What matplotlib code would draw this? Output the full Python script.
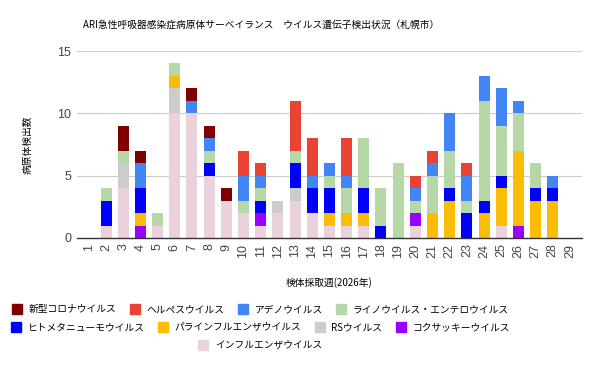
import matplotlib
matplotlib.use("Agg")
import matplotlib.pyplot as plt
from matplotlib.lines import Line2D
import numpy as np

plt.rcParams['font.family'] = ['Noto Sans CJK JP', 'DejaVu Sans']

weeks = list(range(1, 30))

# stacked bottom -> top
influenza =     [0, 1, 4, 0, 1, 10, 10, 5, 3, 2, 1, 2, 3, 2, 1, 1, 1, 0, 0, 1, 0, 0, 0, 0, 1, 0, 0, 0, 0]
coxsackie =     [0, 0, 0, 1, 0, 0, 0, 0, 0, 0, 1, 0, 0, 0, 0, 0, 0, 0, 0, 1, 0, 0, 0, 0, 0, 1, 0, 0, 0]
rs =            [0, 0, 2, 0, 0, 2, 0, 0, 0, 0, 0, 1, 1, 0, 0, 0, 0, 0, 0, 0, 0, 0, 0, 0, 0, 0, 0, 0, 0]
parainfluenza = [0, 0, 0, 1, 0, 1, 0, 0, 0, 0, 0, 0, 0, 0, 1, 1, 1, 0, 0, 0, 2, 3, 0, 2, 3, 6, 3, 3, 0]
hmpv =          [0, 2, 0, 2, 0, 0, 0, 1, 0, 0, 1, 0, 2, 2, 2, 0, 2, 1, 0, 0, 0, 1, 2, 1, 1, 0, 1, 1, 0]
rhino_entero =  [0, 1, 1, 0, 1, 1, 0, 1, 0, 1, 1, 0, 1, 0, 1, 2, 4, 3, 6, 1, 3, 3, 1, 8, 4, 3, 2, 0, 0]
adeno =         [0, 0, 0, 2, 0, 0, 1, 1, 0, 2, 1, 0, 0, 1, 1, 1, 0, 0, 0, 1, 1, 3, 2, 2, 3, 1, 0, 1, 0]
herpes =        [0, 0, 0, 0, 0, 0, 0, 0, 0, 2, 1, 0, 4, 3, 0, 3, 0, 0, 0, 1, 1, 0, 1, 0, 0, 0, 0, 0, 0]
covid =         [0, 0, 2, 1, 0, 0, 1, 1, 1, 0, 0, 0, 0, 0, 0, 0, 0, 0, 0, 0, 0, 0, 0, 0, 0, 0, 0, 0, 0]

series = [
    ("インフルエンザウイルス", influenza, "#ead1dc"),
    ("コクサッキーウイルス", coxsackie, "#9900ff"),
    ("RSウイルス", rs, "#cccccc"),
    ("パラインフルエンザウイルス", parainfluenza, "#fbbc04"),
    ("ヒトメタニューモウイルス", hmpv, "#0000ff"),
    ("ライノウイルス・エンテロウイルス", rhino_entero, "#b6d7a8"),
    ("アデノウイルス", adeno, "#4285f4"),
    ("ヘルペスウイルス", herpes, "#ea4335"),
    ("新型コロナウイルス", covid, "#800000"),
]

fig = plt.figure(figsize=(6, 3.71), dpi=100)
ax = fig.add_axes([0.128, 0.3585, 0.842, 0.504])

bottom = np.zeros(len(weeks))
for name, vals, col in series:
    v = np.array(vals, dtype=float)
    ax.bar(weeks, v, bottom=bottom, width=0.64, color=col, linewidth=0, zorder=2)
    bottom += v

ax.set_xlim(0.3, 29.7)
ax.set_ylim(0, 15)
ax.set_yticks([0, 5, 10, 15])
ax.set_xticks(weeks)
ax.set_xticklabels([str(w) for w in weeks], rotation=90)
for lab in ax.get_xticklabels() + ax.get_yticklabels():
    lab.set_family(['Liberation Sans', 'DejaVu Sans'])
ax.tick_params(axis='both', length=0, labelsize=9, colors="#444444")
ax.tick_params(axis='y', pad=4)
ax.tick_params(axis='x', pad=4)
ax.grid(axis='y', color="#cccccc", linewidth=0.8, zorder=0)
for s in ["top", "right", "left"]:
    ax.spines[s].set_visible(False)
ax.spines["bottom"].set_color("#333333")
ax.spines["bottom"].set_linewidth(1.0)
ax.spines["bottom"].set_zorder(3)

ax.set_xlabel("検体採取週(2026年)", fontsize=7, labelpad=14)
ax.set_ylabel("病原体検出数", fontsize=7, labelpad=18)
fig.text(0.435, 1 - 25 / 371, "ARI急性呼吸器感染症病原体サーベイランス　ウイルス遺伝子検出状況（札幌市）",
         ha="center", va="center", fontsize=7)

# legend rows (reverse of stacking order)
legend_order = series[::-1]
rows = [legend_order[0:4], legend_order[4:8], legend_order[8:9]]
row_y = [1 - 309 / 371, 1 - 327 / 371, 1 - 345 / 371]
for items, y in zip(rows, row_y):
    handles = [Line2D([], [], marker='s', linestyle='', markersize=7.5,
                      color=c, label=n) for n, _, c in items]
    fig.legend(handles=handles, loc="center", bbox_to_anchor=(0.435, y),
               ncol=len(handles), frameon=False, fontsize=7,
               handlelength=0.8, handletextpad=0.8, columnspacing=1.5,
               borderpad=0, borderaxespad=0)

fig.savefig("out.png", dpi=100)
